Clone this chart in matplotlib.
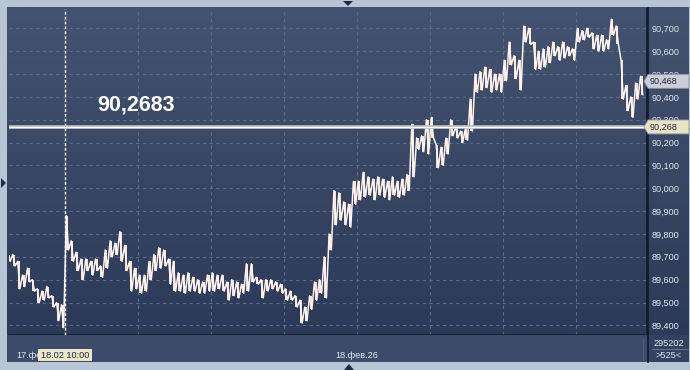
import numpy as np
import matplotlib
matplotlib.use("Agg")
import matplotlib.pyplot as plt
from matplotlib.patches import Rectangle, Polygon

# ---- data: 4-minute bars, 09:14 .. 17:54 (18 Feb) ----
start_min = 9 * 60 + 14
step_min = 4

highs = [89.71, 89.71, 89.68, 89.62, 89.65, 89.60, 89.56, 89.55, 89.57, 89.53,
         89.50, 89.49, 89.88, 89.77, 89.72, 89.69, 89.69, 89.68, 89.69, 89.66,
         89.73, 89.77, 89.76, 89.81, 89.75, 89.68, 89.65, 89.62, 89.62, 89.68,
         89.71, 89.74, 89.73, 89.69, 89.68, 89.63, 89.62, 89.63, 89.61, 89.60,
         89.59, 89.62, 89.63, 89.62, 89.62, 89.59, 89.60, 89.59, 89.58, 89.67,
         89.67, 89.61, 89.60, 89.60, 89.60, 89.59, 89.58, 89.56, 89.55, 89.53,
         89.51, 89.48, 89.53, 89.59, 89.60, 89.70, 89.80, 89.99, 89.98, 89.94,
         89.93, 90.03, 90.03, 90.07, 90.05, 90.04, 90.05, 90.04, 90.03, 90.05,
         90.03, 90.04, 90.06, 90.28, 90.22, 90.23, 90.30, 90.31, 90.19, 90.18,
         90.22, 90.30, 90.27, 90.25, 90.26, 90.39, 90.50, 90.51, 90.53, 90.52,
         90.50, 90.50, 90.56, 90.64, 90.58, 90.56, 90.71, 90.70, 90.64, 90.60,
         90.61, 90.62, 90.64, 90.62, 90.64, 90.62, 90.61, 90.70, 90.69, 90.70,
         90.68, 90.67, 90.67, 90.65, 90.74, 90.71, 90.56, 90.45, 90.40, 90.46,
         90.49]
lows = [89.68, 89.66, 89.56, 89.57, 89.59, 89.55, 89.50, 89.51, 89.52, 89.48,
        89.42, 89.39, 89.73, 89.68, 89.64, 89.60, 89.64, 89.62, 89.64, 89.61,
        89.65, 89.70, 89.71, 89.68, 89.64, 89.55, 89.56, 89.54, 89.55, 89.60,
        89.64, 89.65, 89.66, 89.58, 89.55, 89.55, 89.54, 89.55, 89.55, 89.54,
        89.54, 89.55, 89.55, 89.56, 89.55, 89.51, 89.53, 89.52, 89.54, 89.55,
        89.59, 89.58, 89.52, 89.55, 89.56, 89.55, 89.54, 89.51, 89.51, 89.48,
        89.41, 89.42, 89.47, 89.51, 89.54, 89.52, 89.73, 89.84, 89.86, 89.84,
        89.83, 89.93, 89.95, 89.96, 89.97, 89.95, 89.97, 89.96, 89.95, 89.97,
        89.96, 89.97, 89.99, 90.05, 90.17, 90.16, 90.15, 90.22, 90.09, 90.10,
        90.15, 90.23, 90.22, 90.20, 90.21, 90.25, 90.42, 90.43, 90.44, 90.42,
        90.43, 90.42, 90.47, 90.54, 90.48, 90.43, 90.64, 90.63, 90.52, 90.52,
        90.53, 90.55, 90.58, 90.56, 90.57, 90.58, 90.56, 90.64, 90.65, 90.66,
        90.61, 90.60, 90.60, 90.61, 90.67, 90.63, 90.39, 90.34, 90.31, 90.39,
        90.41]

level_price = 90.2683
last_price = 90.468
y_ticks = [89.4, 89.5, 89.6, 89.7, 89.8, 89.9, 90.0, 90.1, 90.2, 90.3, 90.4, 90.5, 90.6, 90.7]
hour_ticks = [10, 11, 12, 13, 14, 15, 16, 17]
date_label = "18.фев.26"
prev_date = "17.фев"
cursor_label = "18.02 10:00"
volume_label = "295202"
count_label = ">525<"

W, H = 690, 370
fig = plt.figure(figsize=(W / 100, H / 100), dpi=100)
fig.patch.set_facecolor("#b7c5d7")
plt.rcParams["font.family"] = ["Liberation Sans", "DejaVu Sans"]


def fr(x, y, w, h):
    # image pixels (top-left origin) -> figure fraction rect
    return [x / W, 1 - (y + h) / H, w / W, h / H]


def fp(x, y):
    return (x / W, 1 - y / H)


# background gradient for plot + price strip
bg = fig.add_axes(fr(7, 7, 682, 329))
grad = np.linspace(0, 1, 256).reshape(-1, 1)
cmap = matplotlib.colors.LinearSegmentedColormap.from_list("bg", ["#44536f", "#2d3a57"])
bg.imshow(grad, aspect="auto", cmap=cmap, extent=[0, 1, 0, 1])
bg.set_axis_off()

# bottom strip
fig.add_artist(Rectangle(fp(7, 362), 641 / W, 27 / H, transform=fig.transFigure,
                         facecolor="#3d4b68", edgecolor="none"))
fig.add_artist(Rectangle(fp(648, 362), 41 / W, 27 / H, transform=fig.transFigure,
                         facecolor="#34425f", edgecolor="none"))

ax = fig.add_axes(fr(9, 9, 638, 326))
ax.set_facecolor("none")

t = start_min + step_min * np.arange(len(highs))
highs = np.array(highs)
lows = np.array(lows)
# bars plus a jagged high/low path between them, like a dense minute chart
ax.vlines(t, lows, highs, color="#fff3ee", lw=1.3, zorder=3)
zx = np.ravel(np.column_stack([t - 0.9, t + 0.9]))
zy = np.ravel(np.column_stack([highs, lows]))
ax.plot(zx, zy, color="#fff3ee", lw=1.1, zorder=3)

ax.set_xlim(553.97, 1078.4)
ax.set_ylim(89.3578, 90.7845)

ax.set_yticks(y_ticks)
ax.set_yticklabels([f"{v:.3f}".replace(".", ",") for v in y_ticks])
ax.yaxis.tick_right()
ax.set_xticks([h * 60 for h in hour_ticks])
ax.set_xticklabels([f"{h}:00" for h in hour_ticks])
ax.tick_params(axis="both", length=0, colors="#e3e8f0", labelsize=6.6)
ax.tick_params(axis="y", pad=3)
ax.tick_params(axis="x", pad=5)
ax.grid(True, color="#5a6a89", lw=0.8, linestyle=(0, (3, 3)))
for s in ax.spines.values():
    s.set_color("#121a2a")
    s.set_linewidth(1.2)
ax.spines["left"].set_visible(False)
ax.spines["top"].set_visible(False)

# cursor at 10:00
ax.axvline(600, color="#ffffff", lw=1.0, linestyle=(0, (2, 1.5)), zorder=4)

# horizontal level line
ax.axhline(level_price, color="#b9bcc2", lw=2.6, zorder=5)
ax.axhline(level_price, color="#ffffff", lw=1.0, zorder=6)
fig.text(*fp(97, 110), f"{level_price:.4f}".replace(".", ","), color="#ffffff",
         fontsize=15.5, fontweight="bold", ha="left", va="baseline")


# price tags on the right strip
def tag(price, face, ypx):
    x0 = 648
    pts = [fp(x0 - 4, ypx), fp(x0, ypx - 7), fp(689, ypx - 7), fp(689, ypx + 7), fp(x0, ypx + 7)]
    fig.add_artist(Polygon(pts, closed=True, transform=fig.transFigure,
                           facecolor=face, edgecolor="#8a93a3", lw=0.6, zorder=10))
    fig.text(*fp(650, ypx), f"{price:.3f}".replace(".", ","), color="#1d2740",
             fontsize=6.6, ha="left", va="center", zorder=11)


def py(p):
    return 28.3 + (90.7 - p) * 228.5


tag(last_price, "#c9ced7", py(last_price))
tag(level_price, "#e7e4c5", py(level_price))

# bottom strip texts
fig.text(*fp(357, 356), date_label, color="#e3e8f0", fontsize=6.6, ha="center", va="center")
fig.text(*fp(16, 355), prev_date, color="#e3e8f0", fontsize=6.6, ha="left", va="center")
fig.add_artist(Rectangle(fp(38, 361), 54 / W, 12 / H, transform=fig.transFigure,
                         facecolor="#ebe8c9", edgecolor="none", zorder=5))
fig.text(*fp(65, 355), cursor_label, color="#1d2740", fontsize=6.6, ha="center",
         va="center", zorder=6)
fig.text(*fp(669, 343), volume_label, color="#e3e8f0", fontsize=6.6, ha="center", va="center")
fig.text(*fp(669, 356), count_label, color="#e3e8f0", fontsize=6.6, ha="center", va="center")
fig.add_artist(plt.Line2D([652 / W, 688 / W], [fp(0, 349)[1]] * 2, transform=fig.transFigure,
                          color="#6e7c96", lw=0.6))
fig.add_artist(plt.Line2D([647.5 / W] * 2, [fp(0, 8)[1], fp(0, 362)[1]],
                          transform=fig.transFigure, color="#121a2a", lw=1.2))
fig.add_artist(plt.Line2D([643 / W] * 2, [fp(0, 338)[1], fp(0, 360)[1]],
                          transform=fig.transFigure, color="#56647f", lw=0.6))

# small navigation triangles on the frame
tri = "#1e2a44"
fig.add_artist(Polygon([fp(343, 1), fp(353, 1), fp(348, 6)], transform=fig.transFigure,
                       facecolor=tri, edgecolor="none"))
fig.add_artist(Polygon([fp(344, 370), fp(354, 370), fp(349, 364)], transform=fig.transFigure,
                       facecolor=tri, edgecolor="none"))
fig.add_artist(Polygon([fp(1, 178), fp(1, 188), fp(6, 183)], transform=fig.transFigure,
                       facecolor=tri, edgecolor="none"))

fig.savefig("out.png", dpi=100, facecolor=fig.get_facecolor())
